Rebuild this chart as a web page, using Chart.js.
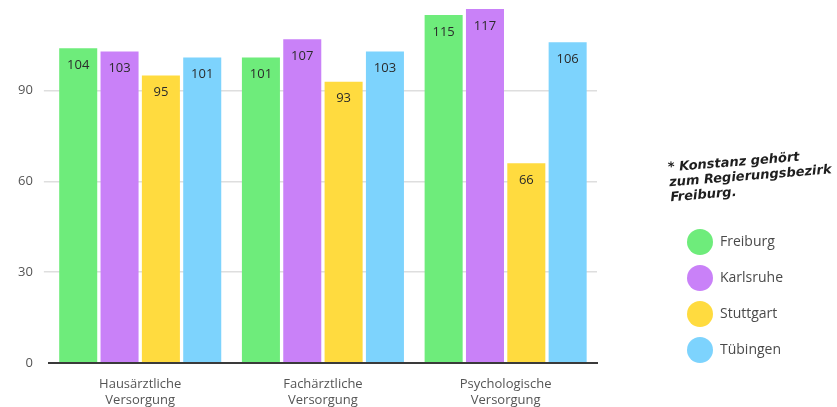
<!DOCTYPE html>
<html>
<head>
<meta charset="utf-8">
<script src="https://cdn.jsdelivr.net/npm/chart.js@4/dist/chart.umd.min.js"></script>
<style>
  html, body { margin: 0; padding: 0; background: #fff; }
  #wrap { width: 837px; height: 407px; position: relative; }
</style>
</head>
<body>
<div id="wrap"><canvas id="c" width="837" height="407"></canvas></div>
<script>
// Versorgungsgrad nach Regierungsbezirk (in Prozent)
const categories = [
  ['Hausärztliche', 'Versorgung'],
  ['Fachärztliche', 'Versorgung'],
  ['Psychologische', 'Versorgung']
];
const regions = ['Freiburg', 'Karlsruhe', 'Stuttgart', 'Tübingen'];
const freiburg  = [104, 101, 115];
const karlsruhe = [103, 107, 117];
const stuttgart = [95, 93, 66];
const tuebingen = [101, 103, 106];
const yTicks = [0, 30, 60, 90];
const noteLines = ['* Konstanz gehört', 'zum Regierungsbezirk', 'Freiburg.'];

const colors = ['#6eec7b', '#c981f8', '#ffdb3f', '#7dd3fd'];
const seriesValues = [freiburg, karlsruhe, stuttgart, tuebingen];

const FONT = '"Open Sans", Lato, sans-serif';

const valueLabels = {
  id: 'valueLabels',
  afterDatasetsDraw(chart) {
    const ctx = chart.ctx;
    ctx.save();
    ctx.font = '13px ' + FONT;
    ctx.fillStyle = '#2b2b2b';
    ctx.textAlign = 'center';
    ctx.textBaseline = 'middle';
    chart.data.datasets.forEach((ds, i) => {
      chart.getDatasetMeta(i).data.forEach((bar, j) => {
        ctx.fillText(String(ds.data[j]), bar.x, bar.y + 17);
      });
    });
    ctx.restore();
  }
};

const sideLegend = {
  id: 'sideLegend',
  afterDraw(chart) {
    const ctx = chart.ctx;
    ctx.save();
    // handwritten-style note
    ctx.translate(668, 168);
    ctx.rotate(-0.08);
    ctx.font = 'italic 600 13px "DejaVu Sans", sans-serif';
    ctx.fillStyle = '#1e1e1e';
    ctx.textAlign = 'left';
    ctx.textBaseline = 'middle';
    noteLines.forEach((t, i) => ctx.fillText(t, 0, i * 15));
    ctx.restore();

    ctx.save();
    ctx.font = '14px ' + FONT;
    ctx.textBaseline = 'middle';
    ctx.textAlign = 'left';
    chart.data.datasets.forEach((ds, i) => {
      const y = 242 + i * 36;
      ctx.beginPath();
      ctx.arc(700, y, 13, 0, Math.PI * 2);
      ctx.fillStyle = ds.backgroundColor;
      ctx.fill();
      ctx.fillStyle = '#4a4a4a';
      ctx.fillText(ds.label, 720, y);
    });
    ctx.restore();
  }
};

new Chart(document.getElementById('c'), {
  type: 'bar',
  data: {
    labels: categories,
    datasets: regions.map((name, i) => ({
      label: name,
      data: seriesValues[i],
      backgroundColor: colors[i],
      borderWidth: 0,
      barPercentage: 0.92,
      categoryPercentage: 0.905
    }))
  },
  options: {
    responsive: false,
    animation: false,
    layout: { padding: { top: 0, right: 240, bottom: -7, left: 7 } },
    plugins: {
      legend: { display: false },
      tooltip: { enabled: false }
    },
    scales: {
      x: {
        grid: { display: false },
        border: { display: true, color: '#3a3a3a', width: 2 },
        ticks: {
          color: '#555',
          font: { family: FONT, size: 13 },
          padding: 6,
          maxRotation: 0
        }
      },
      y: {
        min: 0,
        max: 120,
        afterBuildTicks(axis) {
          axis.ticks = yTicks.map(v => ({ value: v }));
        },
        afterFit(axis) {
          // the top tick (90) sits well below the plot top, so no label overhang is needed
          axis.paddingTop = 0;
        },
        border: { display: false },
        grid: {
          color: ctx => (ctx.tick && ctx.tick.value === 0) ? 'rgba(0,0,0,0)' : '#dedede',
          lineWidth: 1.5,
          tickLength: 5
        },
        ticks: {
          color: '#555',
          font: { family: FONT, size: 13 },
          padding: 11
        }
      }
    }
  },
  plugins: [valueLabels, sideLegend]
});
</script>
</body>
</html>
